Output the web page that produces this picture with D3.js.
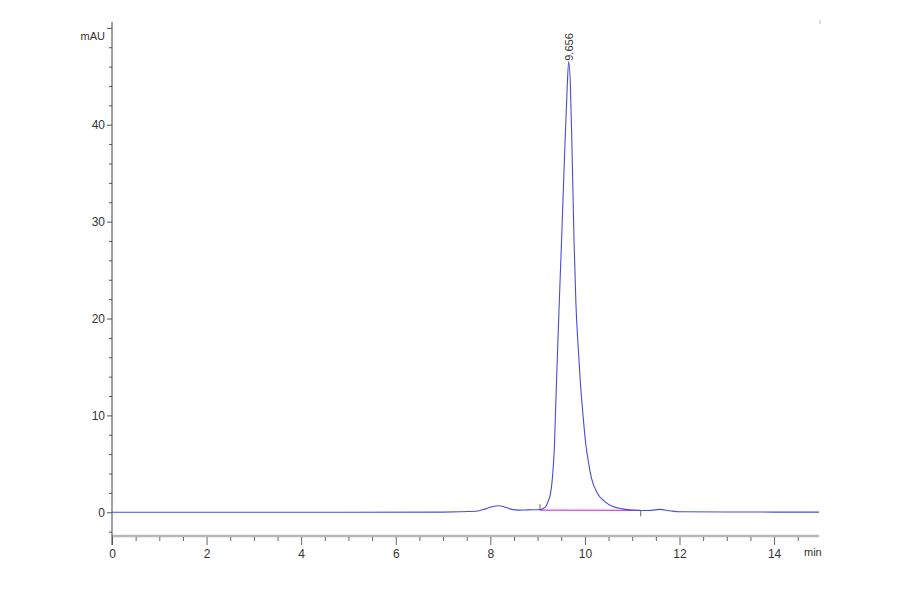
<!DOCTYPE html>
<html>
<head>
<meta charset="utf-8">
<script src="https://cdn.jsdelivr.net/npm/d3@7"></script>
<style>
  body { margin: 0; background: #fff; }
  #chrom text { font-family: 'Liberation Sans Narrow', 'Liberation Sans', Arial, sans-serif; fill: #333; }
</style>
</head>
<body>
<div id="chrom"></div>
<script>
// retention time (min) and detector signal (mAU)
var times = [0, 2.5, 5, 7, 7.7, 7.9, 8.05, 8.18, 8.3, 8.45, 8.6, 8.8, 9.0, 9.05, 9.12, 9.175, 9.22, 9.275, 9.31, 9.335, 9.355, 9.375, 9.40, 9.45, 9.50, 9.57, 9.625, 9.656, 9.695, 9.73, 9.77, 9.81, 9.865, 9.90, 9.96, 10.02, 10.07, 10.14, 10.26, 10.42, 10.59, 10.8, 11.0, 11.2, 11.4, 11.58, 11.8, 12.0, 13, 14, 14.95]
var signal = [0, 0, 0, 0.02, 0.1, 0.35, 0.6, 0.68, 0.55, 0.3, 0.22, 0.25, 0.26, 0.27, 0.4, 0.6, 1.1, 2.0, 3.4, 5.0, 6.8, 9.8, 13.6, 20.6, 27.2, 36.9, 43.8, 46.5, 43.8, 36.9, 28.0, 21.5, 16.5, 13.7, 10.0, 7.0, 5.3, 3.5, 2.0, 1.1, 0.6, 0.35, 0.22, 0.18, 0.2, 0.3, 0.15, 0.05, 0.03, 0.02, 0.02]

// integration baseline of the main peak
var baseTimes = [9.05, 11.18]
var baseValues = [0.22, 0.2]

var peakTime = 9.656
var peakHeight = 46.5
var peakLabel = '9.656'

var xMajor = [0, 2, 4, 6, 8, 10, 12, 14]
var yMajor = [0, 10, 20, 30, 40]

const width = 900,
    height = 594;

const x = d3.scaleLinear().domain([0, 14.95]).range([112, 819]);
const y = d3.scaleLinear().domain([-2.5, 50.5]).range([536.5, 23]);

const svg = d3.select('#chrom').append('svg')
    .attr('width', width)
    .attr('height', height);

// x axis: gray bar with ticks every 0.5 min
var xMinor = d3.range(0, 15, 0.5);
svg.append('line')
    .attr('x1', x(0)).attr('x2', x(14.95))
    .attr('y1', 536).attr('y2', 536)
    .attr('stroke', '#b8b8b8').attr('stroke-width', 2.5);

const xAxis = d3.axisBottom(x)
    .tickValues(xMinor)
    .tickSize(5)
    .tickFormat(d => xMajor.indexOf(d) >= 0 ? d : '');
const gx = svg.append('g')
    .attr('transform', 'translate(0,537)')
    .call(xAxis);
gx.select('.domain').remove();
gx.selectAll('.tick line')
    .attr('stroke', '#666')
    .attr('y2', d => xMajor.indexOf(d) >= 0 ? 8 : 4);
gx.selectAll('.tick text')
    .attr('y', 12)
    .style('font-size', '12px');

svg.append('text')
    .attr('x', 804).attr('y', 556)
    .style('font-size', '11px')
    .text('min');

// y axis with minor ticks every 2 mAU
var yMinor = d3.range(-2, 51, 2);
const yAxis = d3.axisLeft(y)
    .tickValues(yMinor)
    .tickSize(3)
    .tickFormat(d => yMajor.indexOf(d) >= 0 ? d : '');
const gy = svg.append('g')
    .attr('transform', 'translate(112,0)')
    .call(yAxis);
gy.select('.domain').remove();
gy.selectAll('.tick line')
    .attr('stroke', '#555')
    .attr('x2', d => (yMajor.indexOf(d) >= 0 || d === 50) ? -5 : -3);
gy.selectAll('.tick text')
    .attr('x', -7)
    .style('font-size', '12px');

svg.append('line')
    .attr('x1', 112).attr('x2', 112)
    .attr('y1', 22).attr('y2', 545)
    .attr('stroke', '#444').attr('stroke-width', 1);

svg.append('text')
    .attr('x', 105).attr('y', 40)
    .attr('text-anchor', 'end')
    .style('font-size', '11px')
    .text('mAU');

// small mark in the top right corner
svg.append('line')
    .attr('x1', 820).attr('x2', 820)
    .attr('y1', 20).attr('y2', 24)
    .attr('stroke', '#bbb');

// integration baseline
svg.append('line')
    .attr('x1', x(baseTimes[0])).attr('y1', y(baseValues[0]))
    .attr('x2', x(baseTimes[1])).attr('y2', y(baseValues[1]))
    .attr('stroke', '#e040e0').attr('stroke-width', 1.2);

// trace
var points = times.map((t, i) => [t, signal[i]]);
const line = d3.line()
    .x(d => x(d[0]))
    .y(d => y(d[1]))
    .curve(d3.curveMonotoneX);
svg.append('path')
    .datum(points)
    .attr('d', line)
    .attr('fill', 'none')
    .attr('stroke', '#4b4bdc')
    .attr('stroke-width', 1.1);

// peak start / end markers
svg.append('line')
    .attr('x1', x(baseTimes[0])).attr('x2', x(baseTimes[0]))
    .attr('y1', y(baseValues[0]) - 6).attr('y2', y(baseValues[0]))
    .attr('stroke', '#666');
svg.append('line')
    .attr('x1', x(baseTimes[1])).attr('x2', x(baseTimes[1]))
    .attr('y1', y(baseValues[1])).attr('y2', y(baseValues[1]) + 6)
    .attr('stroke', '#666');

// retention time label
svg.append('text')
    .attr('transform', `translate(${x(peakTime) + 4},${y(peakHeight) - 1}) rotate(-90)`)
    .attr('text-anchor', 'start')
    .style('font-size', '11px')
    .text(peakLabel);
</script>
</body>
</html>
